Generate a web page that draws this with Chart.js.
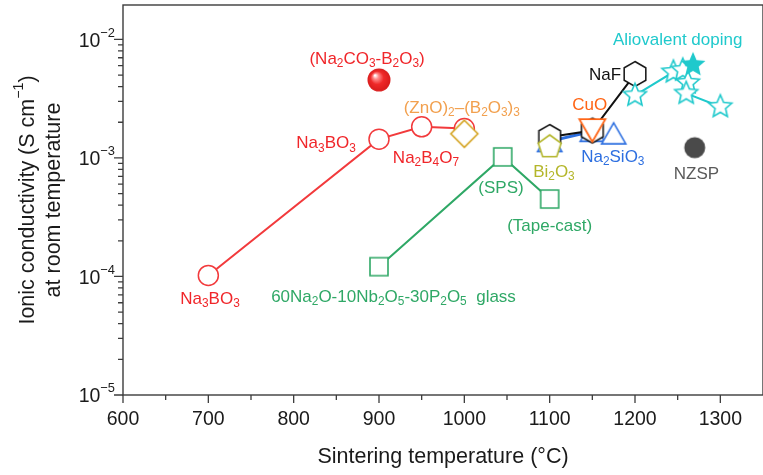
<!DOCTYPE html>
<html>
<head>
<meta charset="utf-8">
<script src="https://cdn.jsdelivr.net/npm/chart.js@4/dist/chart.umd.min.js"></script>
<style>
  html, body { margin: 0; padding: 0; background: #ffffff; }
  #wrap { width: 763px; height: 475px; position: relative; }
</style>
</head>
<body>
<div id="wrap"><canvas id="chart" width="763" height="475"></canvas></div>
<script>
// Room-temperature ionic conductivity of NASICON-type electrolytes vs. sintering temperature

// Sintering aids: borates
const borateTemp = [700, 900, 950, 1000];
const borateSigma = [1.02e-4, 1.44e-3, 1.83e-3, 1.77e-3];
const carbonateBorateTemp = [900];
const carbonateBorateSigma = [4.55e-3];
const znoBorateTemp = [1000];
const znoBorateSigma = [1.6e-3];

// 60Na2O-10Nb2O5-30P2O5 glass additive
const glassTemp = [900, 1045, 1100];
const glassSigma = [1.21e-4, 1.02e-3, 4.5e-4];

// NaF, Na2SiO3, Bi2O3, CuO additions
const nafTemp = [1100, 1150, 1200];
const nafSigma = [1.5e-3, 1.7e-3, 5.1e-3];
const silicateTemp = [1100, 1150];
const silicateSigma = [1.38e-3, 1.68e-3];
const silicateExtraTemp = [1175];
const silicateExtraSigma = [1.6e-3];
const bismuthTemp = [1100];
const bismuthSigma = [1.24e-3];
const cuoTemp = [1150];
const cuoSigma = [1.72e-3];

// Aliovalent doping
const dopingTemp = [1200, 1245, 1256, 1262, 1260, 1300];
const dopingSigma = [3.37e-3, 5.3e-3, 5.5e-3, 4.3e-3, 3.5e-3, 2.7e-3];
const dopingBestTemp = [1268];
const dopingBestSigma = [6.1e-3];

// Undoped Na3Zr2Si2PO12
const nzspTemp = [1270];
const nzspSigma = [1.22e-3];

// Axis ticks
const xTickValues = [600, 700, 800, 900, 1000, 1100, 1200, 1300];
const xMinorValues = [650, 750, 850, 950, 1050, 1150, 1250];
const yTickExponents = [-5, -4, -3, -2];

// Annotations (markup: _{..} subscript, ^{..} superscript), anchored in data units
const labelTexts = [
  '(Na_{2}CO_{3}-B_{2}O_{3})', '(ZnO)_{2}\u2013(B_{2}O_{3})_{3}', 'Na_{3}BO_{3}', 'Na_{2}B_{4}O_{7}',
  'Na_{3}BO_{3}', '60Na_{2}O-10Nb_{2}O_{5}-30P_{2}O_{5}  glass', '(SPS)', '(Tape-cast)',
  'Bi_{2}O_{3}', 'Na_{2}SiO_{3}', 'CuO', 'NaF', 'Aliovalent doping', 'NZSP'
];
const labelTemp = [886, 997, 838, 955, 702, 917, 1043, 1100, 1105, 1174, 1147, 1165, 1250, 1272];
const labelSigma = [6.84e-3, 2.64e-3, 1.33e-3, 1.0e-3, 6.46e-5, 6.71e-5, 5.58e-4, 2.67e-4,
  7.62e-4, 1.02e-3, 2.8e-3, 5.01e-3, 9.9e-3, 7.33e-4];
const labelColorKeys = ['red', 'lightOrange', 'red', 'red', 'red', 'green', 'green', 'green',
  'olive', 'blue', 'orange', 'black', 'cyan', 'gray'];

const COLORS = {
  red: '#f0262a', redLine: '#f23a3c', lightOrange: '#f2a04e', gold: '#d4a21e',
  green: '#2fa866', olive: '#b4b62a', blue: '#2d6fe0', orange: '#ff6414',
  black: '#111111', cyan: '#1fc9cc', gray: '#5a5a5a', nzsp: '#4a4a4a', axis: '#3c3c3c', text: '#1a1a1a'
};
const FONT = '"Liberation Sans", Arial, Helvetica, sans-serif';

function pts(xs, ys) { return xs.map((x, i) => ({ x: x, y: ys[i] })); }

// Marker glyphs rendered to small canvases
function marker(shape, r, stroke, fill, lw) {
  const pad = Math.ceil(lw) + 2;
  let s = Math.ceil(2 * r + 2 * pad);
  if (s % 2) s += 1;
  const c = document.createElement('canvas');
  c.width = s; c.height = s;
  const g = c.getContext('2d');
  const cx = s / 2, cy = s / 2;
  g.beginPath();
  if (shape === 'square') {
    g.rect(cx - r, cy - r, 2 * r, 2 * r);
  } else if (shape === 'star') {
    for (let k = 0; k < 10; k++) {
      const a = -Math.PI / 2 + k * Math.PI / 5;
      const rr = k % 2 === 0 ? r : r * 0.46;
      const px = cx + rr * Math.cos(a), py = cy + rr * Math.sin(a);
      if (k === 0) g.moveTo(px, py); else g.lineTo(px, py);
    }
  } else if (shape === 'sphere') {
    g.arc(cx, cy, r, 0, Math.PI * 2);
    const grd = g.createRadialGradient(cx - 0.35 * r, cy - 0.4 * r, 0.5, cx, cy, r);
    grd.addColorStop(0, '#ffffff');
    grd.addColorStop(0.22, '#ff8a8a');
    grd.addColorStop(0.55, '#f02a2a');
    grd.addColorStop(1, '#d81c1c');
    g.fillStyle = grd;
    g.fill();
    return c;
  } else if (shape === 'disc') {
    g.arc(cx, cy, r, 0, Math.PI * 2);
  } else {
    const spec = { hexagon: [6, -Math.PI / 2], pentagon: [5, -Math.PI / 2], triangle: [3, -Math.PI / 2],
      triangleDown: [3, Math.PI / 2], diamond: [4, -Math.PI / 2] }[shape];
    const n = spec[0], a0 = spec[1];
    let oy = 0;
    if (shape === 'triangle') oy = r * 0.22;
    if (shape === 'triangleDown') oy = -r * 0.22;
    for (let k = 0; k < n; k++) {
      const a = a0 + k * 2 * Math.PI / n;
      const px = cx + r * Math.cos(a), py = cy + oy + r * Math.sin(a);
      if (k === 0) g.moveTo(px, py); else g.lineTo(px, py);
    }
  }
  g.closePath();
  if (fill) { g.fillStyle = fill; g.fill(); }
  if (stroke) { g.lineWidth = lw; g.strokeStyle = stroke; g.lineJoin = 'miter'; g.stroke(); }
  return c;
}

const mk = {
  square: marker('square', 9, COLORS.green, '#ffffff', 1.6),
  diamond: marker('diamond', 13.5, COLORS.gold, '#ffffff', 1.6),
  hexagon: marker('hexagon', 12.5, COLORS.black, '#ffffff', 1.5),
  pentagon: marker('pentagon', 12, COLORS.olive, '#ffffff', 1.6),
  triangle: marker('triangle', 14, COLORS.blue, '#ffffff', 1.6),
  cuo: marker('triangleDown', 15, COLORS.orange, '#ffffff', 1.8),
  star: marker('star', 12, COLORS.cyan, '#ffffff', 1.6),
  starFilled: marker('star', 13, null, COLORS.cyan, 1),
  sphere: marker('sphere', 11.5, null, null, 1),
  nzsp: marker('disc', 10.5, null, COLORS.nzsp, 1)
};

function ds(label, xs, ys, opts) {
  return Object.assign({
    label: label, data: pts(xs, ys), showLine: false, borderWidth: 2, pointRadius: 10,
    pointHoverRadius: 10, borderColor: '#000', backgroundColor: '#fff'
  }, opts);
}

const datasets = [
  ds('Aliovalent doping (best)', dopingBestTemp, dopingBestSigma, { pointStyle: mk.starFilled }),
  ds('Aliovalent doping', dopingTemp, dopingSigma, { showLine: true, borderColor: COLORS.cyan, borderWidth: 2, pointStyle: mk.star }),
  ds('CuO', cuoTemp, cuoSigma, { pointStyle: mk.cuo }),
  ds('Bi2O3', bismuthTemp, bismuthSigma, { pointStyle: mk.pentagon }),
  ds('Na2SiO3 (b)', silicateExtraTemp, silicateExtraSigma, { pointStyle: mk.triangle }),
  ds('NaF', nafTemp, nafSigma, { showLine: true, borderColor: COLORS.black, borderWidth: 2, pointStyle: mk.hexagon }),
  ds('Na2SiO3', silicateTemp, silicateSigma, { showLine: true, borderColor: COLORS.blue, borderWidth: 3, pointStyle: mk.triangle }),
  ds('(ZnO)2-(B2O3)3', znoBorateTemp, znoBorateSigma, { pointStyle: mk.diamond }),
  ds('Na3BO3 / Na2B4O7', borateTemp, borateSigma, {
    showLine: true, borderColor: COLORS.redLine, borderWidth: 2, pointStyle: 'circle',
    pointRadius: 10, pointBorderColor: COLORS.redLine, pointBackgroundColor: '#ffffff', pointBorderWidth: 1.5
  }),
  ds('Na2CO3-B2O3', carbonateBorateTemp, carbonateBorateSigma, { pointStyle: mk.sphere }),
  ds('60Na2O-10Nb2O5-30P2O5 glass', glassTemp, glassSigma, { showLine: true, borderColor: COLORS.green, borderWidth: 2, pointStyle: mk.square }),
  ds('NZSP', nzspTemp, nzspSigma, { pointStyle: mk.nzsp })
];

// Rich text: _{..} subscript, ^{..} superscript
function parseRich(s) {
  const out = [];
  let i = 0, buf = '';
  while (i < s.length) {
    const ch = s[i];
    if ((ch === '_' || ch === '^') && s[i + 1] === '{') {
      if (buf) { out.push({ t: buf, m: 'n' }); buf = ''; }
      const end = s.indexOf('}', i + 2);
      out.push({ t: s.slice(i + 2, end), m: ch === '_' ? 'sub' : 'sup' });
      i = end + 1;
    } else { buf += ch; i++; }
  }
  if (buf) out.push({ t: buf, m: 'n' });
  return out;
}

function drawRich(ctx, text, x, y, size, color, align, scriptRatio) {
  const segs = parseRich(text);
  const ss = size * (scriptRatio || 0.68);
  let total = 0;
  segs.forEach(sg => {
    ctx.font = (sg.m === 'n' ? size : ss) + 'px ' + FONT;
    sg.w = ctx.measureText(sg.t).width;
    total += sg.w;
  });
  let cx = align === 'left' ? x : align === 'right' ? x - total : x - total / 2;
  ctx.fillStyle = color;
  ctx.textAlign = 'left';
  ctx.textBaseline = 'middle';
  segs.forEach(sg => {
    let yy = y;
    if (sg.m === 'sub') yy = y + size * 0.3;
    if (sg.m === 'sup') yy = y - size * 0.42;
    ctx.font = (sg.m === 'n' ? size : ss) + 'px ' + FONT;
    ctx.fillText(sg.t, cx, yy);
    cx += sg.w;
  });
}

const frameAndText = {
  id: 'frameAndText',
  afterDraw(chart) {
    const ctx = chart.ctx;
    const xs = chart.scales.x, ys = chart.scales.y;
    const a = chart.chartArea;
    ctx.save();
    // frame
    ctx.strokeStyle = COLORS.axis;
    ctx.lineWidth = 1.4;
    ctx.strokeRect(a.left, a.top, a.right - a.left, a.bottom - a.top);

    // x ticks
    ctx.lineWidth = 1.3;
    ctx.beginPath();
    xTickValues.forEach(v => { const p = xs.getPixelForValue(v); ctx.moveTo(p, a.bottom); ctx.lineTo(p, a.bottom + 8); });
    xMinorValues.forEach(v => { const p = xs.getPixelForValue(v); ctx.moveTo(p, a.bottom); ctx.lineTo(p, a.bottom + 5); });
    // y ticks
    yTickExponents.forEach(e => {
      const p = ys.getPixelForValue(Math.pow(10, e));
      ctx.moveTo(a.left - 9, p); ctx.lineTo(a.left, p);
      if (e < -2) {
        for (let k = 2; k <= 9; k++) {
          const q = ys.getPixelForValue(k * Math.pow(10, e));
          ctx.moveTo(a.left - 5, q); ctx.lineTo(a.left, q);
        }
      }
    });
    ctx.stroke();

    // x tick labels
    ctx.fillStyle = COLORS.text;
    ctx.font = '19.5px ' + FONT;
    ctx.textAlign = 'center';
    ctx.textBaseline = 'middle';
    xTickValues.forEach(v => ctx.fillText(String(v), xs.getPixelForValue(v), a.bottom + 25));

    // y tick labels 10^n
    yTickExponents.forEach(e => {
      const p = ys.getPixelForValue(Math.pow(10, e));
      drawRich(ctx, '10^{\u2212' + Math.abs(e) + '}', a.left - 8, p + 2, 19.5, COLORS.text, 'right', 0.66);
    });

    // axis titles
    drawRich(ctx, 'Sintering temperature (\u00B0C)', (a.left + a.right) / 2, 457, 21.5, COLORS.text, 'center');
    ctx.save();
    ctx.translate(28, (a.top + a.bottom) / 2);
    ctx.rotate(-Math.PI / 2);
    drawRich(ctx, 'Ionic conductivity (S cm^{\u22121})', 0, 0, 21.5, COLORS.text, 'center', 0.66);
    ctx.restore();
    ctx.save();
    ctx.translate(54, (a.top + a.bottom) / 2);
    ctx.rotate(-Math.PI / 2);
    drawRich(ctx, 'at room temperature', 0, 0, 21.5, COLORS.text, 'center');
    ctx.restore();

    // annotations
    labelTexts.forEach((t, i) => {
      drawRich(ctx, t, xs.getPixelForValue(labelTemp[i]), ys.getPixelForValue(labelSigma[i]),
        17, COLORS[labelColorKeys[i]], 'center', 0.7);
    });
    ctx.restore();
  }
};

new Chart(document.getElementById('chart'), {
  type: 'scatter',
  data: { datasets: datasets },
  options: {
    responsive: false,
    animation: false,
    events: [],
    layout: { autoPadding: false, padding: { left: 123, right: 0, top: 5, bottom: 80 } },
    plugins: { legend: { display: false }, tooltip: { enabled: false } },
    scales: {
      x: { type: 'linear', min: 600, max: 1350, display: false },
      y: { type: 'logarithmic', min: 1e-5, max: 1.95e-2, display: false }
    }
  },
  plugins: [frameAndText]
});
</script>
</body>
</html>
